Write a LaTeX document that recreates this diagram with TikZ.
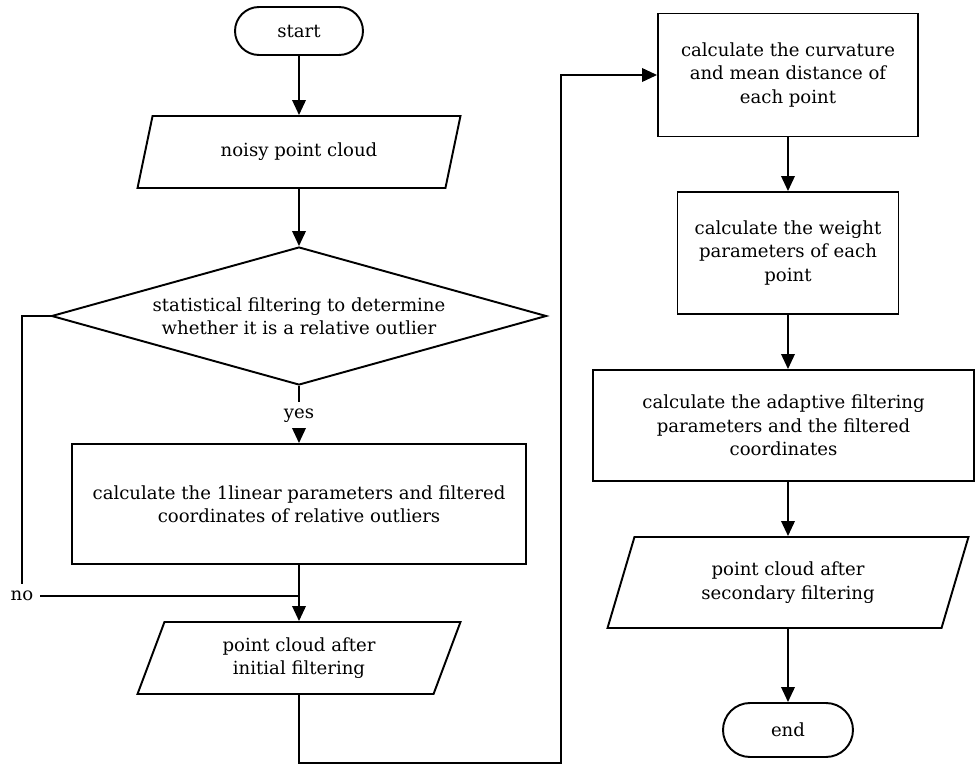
\documentclass[tikz,border=0pt]{standalone}
\usepackage{fontspec}
\setmainfont{DejaVu Serif}
\usepackage{tikz}
\usetikzlibrary{arrows.meta,calc,positioning,shapes.geometric}

\begin{document}
\begin{tikzpicture}[x=0.02cm,y=-0.02cm,line width=1.1pt,
  font=\fontsize{10.3}{13.3}\selectfont,
  >={Triangle[length=0.3cm,width=0.27cm]},
  term/.style={draw,rectangle,rounded corners=0.48cm,minimum width=2.56cm,minimum height=0.96cm},
  io/.style={draw,trapezium,trapezium left angle=63,trapezium right angle=117,
    trapezium stretches body,align=center,minimum height=1.44cm},
  proc/.style={draw,rectangle,align=center},
  decide/.style={draw,diamond,aspect=3.6,align=center,inner sep=1pt,
    minimum width=9.9cm,minimum height=2.76cm}]
\useasboundingbox (0,0) rectangle (975,764);
% left column
\node[term] (start) at (299,31) {start};
\node[io,minimum width=6.46cm] (noisy) at (299,152) {noisy point cloud};
\node[decide] (dec) at (299,316) {statistical filtering to determine\\whether it is a relative outlier};
\node (yes) at (299,416) {yes};
\node[proc,minimum width=9.1cm,minimum height=2.4cm] (lin) at (299,504)
  {calculate the 1linear parameters and filtered\\coordinates of relative outliers};
\node (no) at (22,596) {no};
\node[io,minimum width=6.46cm] (init) at (299,658) {point cloud after\\initial filtering};
% right column
\node[proc,minimum width=5.2cm,minimum height=2.46cm] (curv) at (788,75)
  {calculate the curvature\\and mean distance of\\each point};
\node[proc,minimum width=4.42cm,minimum height=2.44cm] (wgt) at (788,253)
  {calculate the weight\\parameters of each\\point};
\node[proc,minimum width=7.62cm,minimum height=2.22cm] (adapt) at (783.5,425.5)
  {calculate the adaptive filtering\\parameters and the filtered\\coordinates};
\node[io,minimum width=7.22cm,minimum height=1.82cm] (sec) at (788,582.5)
  {point cloud after\\secondary filtering};
\node[term,minimum width=2.6cm,minimum height=1.08cm,rounded corners=0.54cm] (end) at (788,730) {end};
\coordinate (low) at (561,763);

\draw[->] (start) -- (noisy);
\draw[->] (noisy) -- (dec);
\draw (dec) -- (yes);
\draw[->] (yes) -- (lin);
\draw[->] (lin) -- (init);
\draw (dec.west) -- (dec.west -| no) -- (no.north);
\draw (no) -- (no -| lin.south);
\draw[->] (init) |- (low) |- (curv);
\draw[->] (curv) -- (wgt);
\draw[->] (wgt) -- (wgt |- adapt.north);
\draw[->] (adapt.south -| sec) -- (sec);
\draw[->] (sec) -- (end);
\end{tikzpicture}
\end{document}
